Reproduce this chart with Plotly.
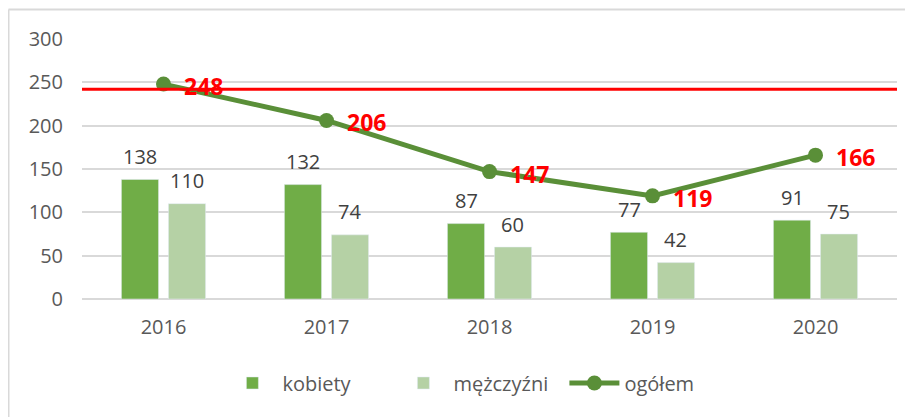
import plotly.graph_objects as go

years = ["2016", "2017", "2018", "2019", "2020"]
kobiety = [138, 132, 87, 77, 91]
mezczyzni = [110, 74, 60, 42, 75]
ogolem = [248, 206, 147, 119, 166]
threshold = 242

FONT = "Open Sans"
C_K = "#70AD47"
C_M = "#B5D1A5"
C_L = "#5A8F38"

fig = go.Figure()
fig.add_trace(go.Bar(x=years, y=kobiety, name="kobiety", marker_color=C_K))
fig.add_trace(go.Bar(x=years, y=mezczyzni, name="mężczyźni", marker_color=C_M))
fig.add_trace(go.Scatter(
    x=years, y=ogolem, name="ogółem", mode="lines+markers",
    line=dict(color=C_L, width=5), marker=dict(color=C_L, size=15),
))

ann = []
off = 0.144
for i, (k, m) in enumerate(zip(kobiety, mezczyzni)):
    ann.append(dict(x=i - off, y=k, xref="x", yref="y", text=str(k), showarrow=False,
                    yanchor="middle", yshift=23, font=dict(family=FONT, size=20, color="#404040")))
    ann.append(dict(x=i + off, y=m, xref="x", yref="y", text=str(m), showarrow=False,
                    yanchor="middle", yshift=23, font=dict(family=FONT, size=20, color="#404040")))
for i, v in enumerate(ogolem):
    ann.append(dict(x=i, y=v, xref="x", yref="y", text="<b>%d</b>" % v, showarrow=False,
                    xanchor="left", yanchor="middle", xshift=18, yshift=-2,
                    font=dict(family=FONT, size=23, color="#FF0000")))

shapes = [
    dict(type="line", xref="paper", yref="y", x0=0, x1=1, y0=threshold, y1=threshold,
         line=dict(color="#FF0000", width=3), layer="above"),
    dict(type="line", xref="paper", yref="paper", x0=-0.0902, x1=-0.0902, y0=1.113, y1=-0.6,
         line=dict(color="#D9D9D9", width=2)),
    dict(type="line", xref="paper", yref="paper", x0=-0.0902, x1=1.1, y0=1.113, y1=1.113,
         line=dict(color="#D9D9D9", width=2)),
]

fig.update_layout(
    width=905, height=409, autosize=False,
    margin=dict(l=74, r=16, t=31, b=118, autoexpand=False),
    paper_bgcolor="white", plot_bgcolor="white",
    font=dict(family=FONT, size=20, color="#595959"),
    barmode="group", bargap=0.423, bargroupgap=0.21,
    showlegend=True,
    legend=dict(orientation="h", x=0.487, xanchor="center", y=-0.323, yanchor="middle",
                font=dict(family=FONT, size=20, color="#595959"), traceorder="normal",
                itemwidth=50, entrywidth=106, entrywidthmode="pixels"),
    annotations=ann, shapes=shapes,
)
fig.update_xaxes(type="category", showgrid=False, ticks="", showline=False, automargin=False,
                 tickfont=dict(family=FONT, size=20, color="#595959"), ticklabelstandoff=14)
fig.update_yaxes(range=[0, 300], dtick=50, showgrid=True, gridcolor="#D9D9D9", gridwidth=1.5,
                 zeroline=True, zerolinecolor="#D9D9D9", zerolinewidth=1.5, ticks="", automargin=False,
                 tickfont=dict(family=FONT, size=20, color="#595959"), ticklabelstandoff=18)

fig.write_html("out.html")
